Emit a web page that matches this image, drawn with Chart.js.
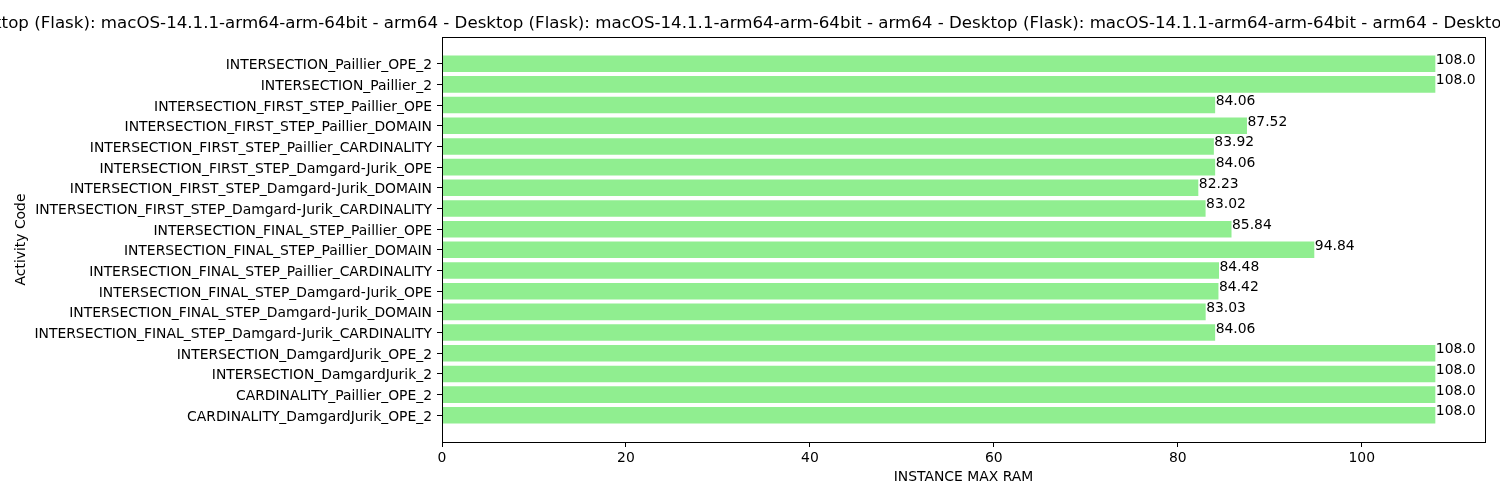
<!DOCTYPE html>
<html>
<head>
<meta charset="utf-8">
<script src="https://cdn.jsdelivr.net/npm/chart.js@4"></script>
<style>
html,body{margin:0;padding:0;background:#fff;}
#wrap{width:1500px;height:500px;position:relative;}
</style>
</head>
<body>
<div id="wrap"><canvas id="c"></canvas></div>
<script>
const categories = [
  "INTERSECTION_Paillier_OPE_2",
  "INTERSECTION_Paillier_2",
  "INTERSECTION_FIRST_STEP_Paillier_OPE",
  "INTERSECTION_FIRST_STEP_Paillier_DOMAIN",
  "INTERSECTION_FIRST_STEP_Paillier_CARDINALITY",
  "INTERSECTION_FIRST_STEP_Damgard-Jurik_OPE",
  "INTERSECTION_FIRST_STEP_Damgard-Jurik_DOMAIN",
  "INTERSECTION_FIRST_STEP_Damgard-Jurik_CARDINALITY",
  "INTERSECTION_FINAL_STEP_Paillier_OPE",
  "INTERSECTION_FINAL_STEP_Paillier_DOMAIN",
  "INTERSECTION_FINAL_STEP_Paillier_CARDINALITY",
  "INTERSECTION_FINAL_STEP_Damgard-Jurik_OPE",
  "INTERSECTION_FINAL_STEP_Damgard-Jurik_DOMAIN",
  "INTERSECTION_FINAL_STEP_Damgard-Jurik_CARDINALITY",
  "INTERSECTION_DamgardJurik_OPE_2",
  "INTERSECTION_DamgardJurik_2",
  "CARDINALITY_Paillier_OPE_2",
  "CARDINALITY_DamgardJurik_OPE_2"
];
const maxRam = [108.0, 108.0, 84.06, 87.52, 83.92, 84.06, 82.23, 83.02, 85.84, 94.84, 84.48, 84.42, 83.03, 84.06, 108.0, 108.0, 108.0, 108.0];
const xTicks = [0, 20, 40, 60, 80, 100];
const titleUnit = "Desktop (Flask): macOS-14.1.1-arm64-arm-64bit - arm64";
const titleRepeats = 4;
const xTitle = "INSTANCE MAX RAM";
const yTitle = "Activity Code";

const FONT = "'DejaVu Sans', sans-serif";
const titleText = Array(titleRepeats).fill(titleUnit).join(" - ");

const fmt = v => Number.isInteger(v) ? v.toFixed(1) : String(v);

const decor = {
  id: 'decor',
  afterDatasetsDraw(chart) {
    const ctx = chart.ctx;
    const meta = chart.getDatasetMeta(0);
    ctx.save();
    ctx.font = "13.9px " + FONT;
    ctx.fillStyle = '#000';
    ctx.textAlign = 'left';
    ctx.textBaseline = 'alphabetic';
    meta.data.forEach((bar, i) => {
      ctx.fillText(fmt(maxRam[i]), bar.x + 0.5, bar.y);
    });
    ctx.restore();
  },
  afterDraw(chart) {
    const ctx = chart.ctx;
    const a = chart.chartArea;
    const ys = chart.scales.y;
    ctx.save();
    ctx.strokeStyle = '#000';
    ctx.lineWidth = 1;
    ctx.strokeRect(Math.round(a.left) + 0.5, Math.round(a.top) + 0.5, Math.round(a.right - a.left), Math.round(a.bottom - a.top));
    // y category labels, positioned by the y scale
    ctx.font = "13.9px " + FONT;
    ctx.fillStyle = '#000';
    ctx.textAlign = 'right';
    ctx.textBaseline = 'alphabetic';
    categories.forEach((c, i) => {
      ctx.fillText(c, a.left - 10, ys.getPixelForValue(i) + 5.5);
    });
    // title
    ctx.font = "16.67px " + FONT;
    ctx.textAlign = 'left';
    const period = ctx.measureText(titleUnit + " - ").width;
    ctx.fillText(titleText, 949 - 2 * period, 28);
    ctx.restore();
  }
};

new Chart(document.getElementById('c'), {
  type: 'bar',
  data: {
    datasets: [{
      data: maxRam.map((v, i) => ({x: v, y: i})),
      backgroundColor: '#90EE90',
      borderWidth: 0,
      barPercentage: 0.8,
      categoryPercentage: 1.0
    }]
  },
  options: {
    indexAxis: 'y',
    responsive: true,
    maintainAspectRatio: false,
    animation: false,
    layout: { padding: { left: 0, right: 15, top: 37, bottom: 0 } },
    plugins: { legend: { display: false }, tooltip: { enabled: false }, title: { display: false } },
    scales: {
      x: {
        type: 'linear',
        min: 0,
        max: 113.4,
        afterBuildTicks: s => { s.ticks = xTicks.map(v => ({value: v})); },
        afterFit: s => { s.height = 58; },
        grid: { display: true, drawOnChartArea: false, drawTicks: true, tickLength: 5, color: '#000', lineWidth: 1 },
        border: { display: true, color: '#000', width: 1 },
        ticks: { color: '#000', font: { family: FONT, size: 13.9 }, padding: 3, maxRotation: 0, autoSkip: false, callback: v => String(v) },
        title: { display: true, text: xTitle, color: '#000', font: { family: FONT, size: 13.9 }, padding: { top: 4, bottom: 14 } }
      },
      y: {
        type: 'linear',
        reverse: true,
        offset: false,
        min: -1.29,
        max: 18.29,
        afterBuildTicks: s => { s.ticks = categories.map((_, i) => ({value: i})); },
        afterFit: s => { s.width = 442; },
        grid: { display: true, drawOnChartArea: false, drawTicks: true, tickLength: 5, color: '#000', lineWidth: 1, offset: false },
        border: { display: true, color: '#000', width: 1 },
        ticks: { display: false },
        title: { display: true, text: yTitle, color: '#000', font: { family: FONT, size: 13.9 }, padding: { top: 13, bottom: 0 } }
      }
    }
  },
  plugins: [decor]
});
</script>
</body>
</html>
